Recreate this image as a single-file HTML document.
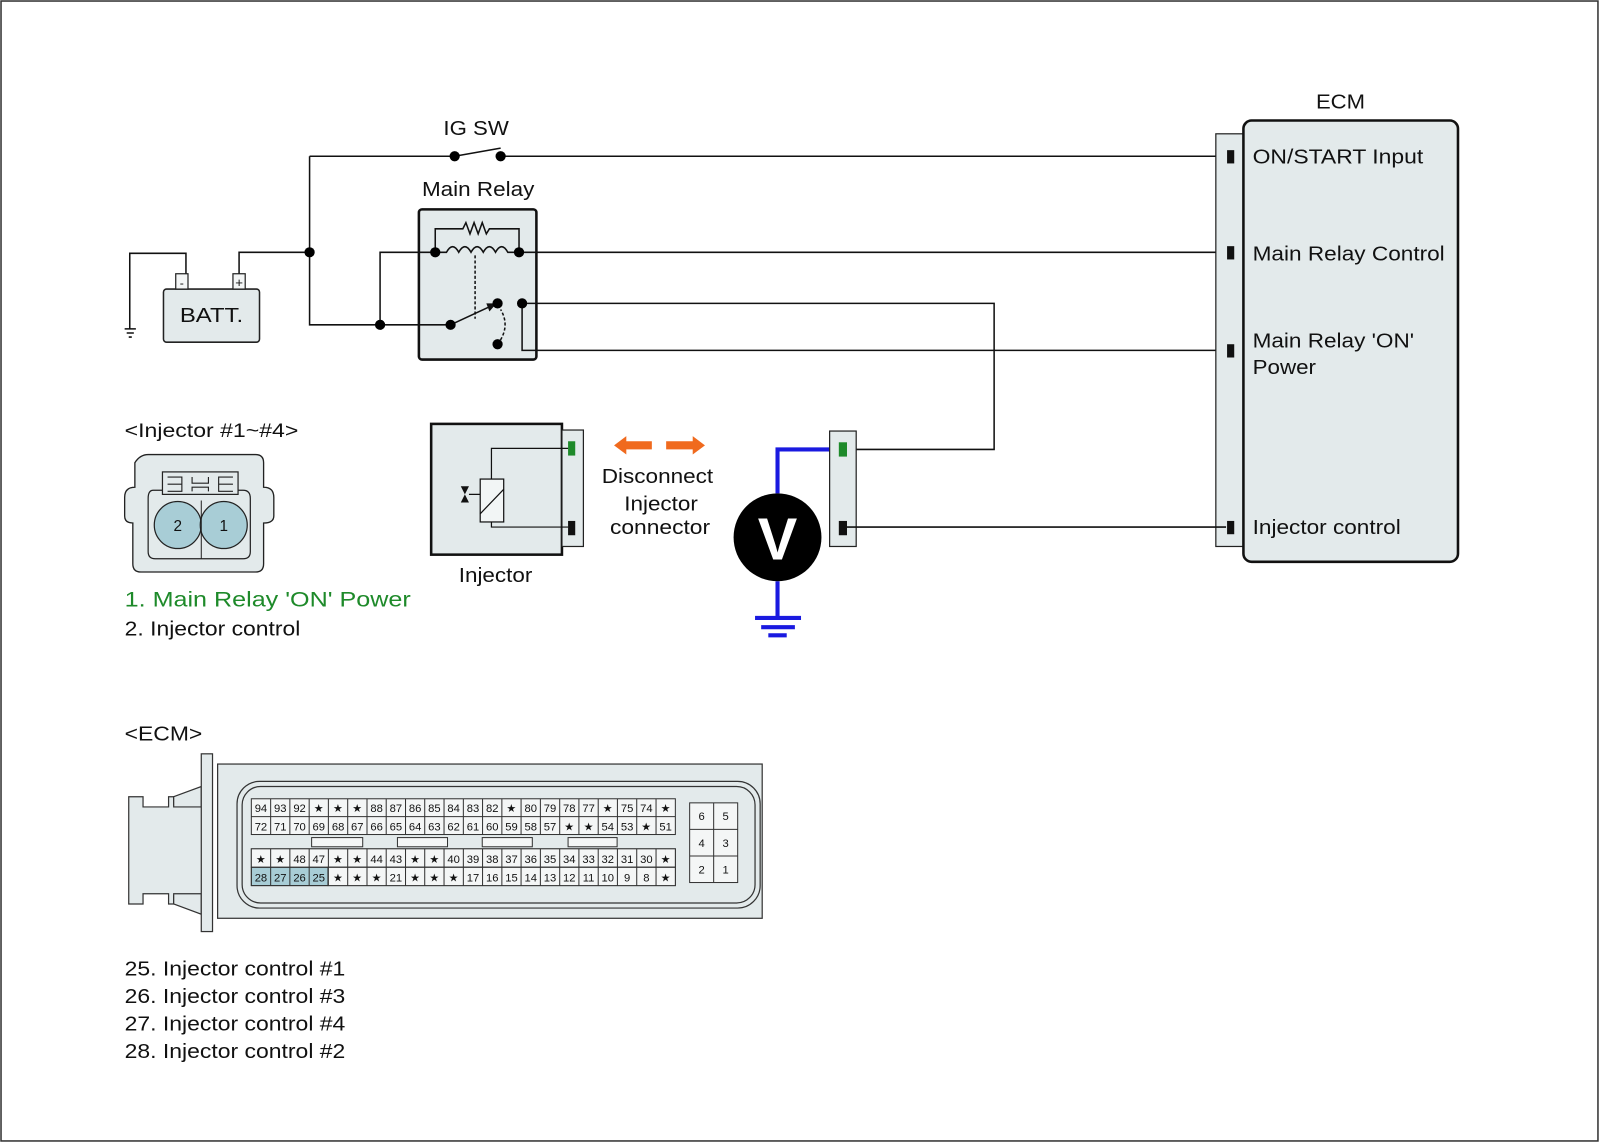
<!DOCTYPE html>
<html><head><meta charset="utf-8"><style>
html,body{margin:0;padding:0;background:#fff}
svg{display:block}
text{font-family:"Liberation Sans",Arial,sans-serif;fill:#111}
.g text{font-size:11px;text-anchor:middle}
</style></head><body>
<svg width="1600" height="1143" viewBox="0 0 1566 1119" preserveAspectRatio="none" xmlns="http://www.w3.org/2000/svg">
<rect x="1" y="1" width="1563" height="1116" fill="#fff" stroke="#333" stroke-width="1.5"/>
<!-- relay box first -->
<rect x="410" y="205" width="115" height="147" rx="3" fill="#e3eaeb" stroke="#111" stroke-width="2.5"/>
<g fill="none" stroke="#111" stroke-width="1.5">
<path d="M303 153H445M490 153H1200M445 153L490 145M303 153V318H441M234 270V247H303M372 318V247H426M182 268V248H127V322"/>
<path d="M508 247H1200M511 297H973V440H826M511 297V343H1200"/>
<path d="M122 322H133M124 326H131M126 330H129"/>
</g>
<circle cx="445" cy="153" r="5"/><circle cx="490" cy="153" r="5"/>
<circle cx="303" cy="247" r="5"/><circle cx="372" cy="318" r="5"/>
<text x="434" y="132" font-size="20" textLength="64" lengthAdjust="spacingAndGlyphs">IG SW</text>
<!-- battery -->
<rect x="160" y="283" width="94" height="52" rx="3" fill="#e3eaeb" stroke="#222" stroke-width="1.5"/>
<rect x="172" y="268" width="12" height="15" fill="#f4f6f6" stroke="#222" stroke-width="1.2"/>
<rect x="228" y="268" width="12" height="15" fill="#f4f6f6" stroke="#222" stroke-width="1.2"/>
<text x="178" y="281" font-size="12" text-anchor="middle">-</text>
<text x="234" y="281" font-size="13" text-anchor="middle">+</text>
<text x="176" y="315" font-size="20" textLength="62" lengthAdjust="spacingAndGlyphs">BATT.</text>
<!-- relay internals -->
<text x="413" y="192" font-size="20" textLength="110" lengthAdjust="spacingAndGlyphs">Main Relay</text>
<g fill="none" stroke="#111" stroke-width="1.5">
<path d="M426 247V224H453L456 218L460 229L464 218L468 229L472 218L476 229L479 224H508V247"/>
<path d="M426 247H437Q443 236 449 247Q455 236 461 247Q467 236 473 247Q479 236 485 247Q491 236 497 247H508"/>
<path d="M465 250V312" stroke-dasharray="3 2"/>
<path d="M441 318L484 298"/>
<path d="M487 337Q500 320 490 303" stroke-dasharray="3 2"/>
</g>
<path d="M486 297L476 297L479 305Z" fill="#111"/>
<circle cx="426" cy="247" r="5"/><circle cx="508" cy="247" r="5"/>
<circle cx="441" cy="318" r="5"/><circle cx="487" cy="297" r="5"/><circle cx="511" cy="297" r="5"/><circle cx="487" cy="337" r="5"/>
<!-- ECM -->
<text x="1288" y="106" font-size="20" textLength="48" lengthAdjust="spacingAndGlyphs">ECM</text>
<rect x="1190" y="131" width="27" height="404" fill="#e3eaeb" stroke="#222" stroke-width="1.2"/>
<rect x="1217" y="118" width="210" height="432" rx="8" fill="#e3eaeb" stroke="#111" stroke-width="2.5"/>
<rect x="1201" y="147" width="7" height="13" fill="#111"/>
<rect x="1201" y="241" width="7" height="13" fill="#111"/>
<rect x="1201" y="337" width="7" height="13" fill="#111"/>
<rect x="1201" y="510" width="7" height="13" fill="#111"/>
<g font-size="20" lengthAdjust="spacingAndGlyphs"><text x="1226" y="160" textLength="167" lengthAdjust="spacingAndGlyphs">ON/START Input</text><text x="1226" y="255" textLength="188" lengthAdjust="spacingAndGlyphs">Main Relay Control</text><text x="1226" y="340" textLength="158" lengthAdjust="spacingAndGlyphs">Main Relay 'ON'</text><text x="1226" y="366" textLength="62" lengthAdjust="spacingAndGlyphs">Power</text><text x="1226" y="523" textLength="145" lengthAdjust="spacingAndGlyphs">Injector control</text></g>
<!-- injector -->
<rect x="422" y="415" width="128" height="128" fill="#e3eaeb" stroke="#111" stroke-width="2.5"/>
<rect x="550" y="421" width="21" height="114" fill="#e3eaeb" stroke="#222" stroke-width="1.2"/>
<rect x="556" y="432" width="7" height="14" fill="#1e8a2a"/>
<rect x="556" y="510" width="7" height="14" fill="#111"/>
<g fill="none" stroke="#111" stroke-width="1.2"><path d="M556 439H481V469M481 511V516H556M459 484H470"/><rect x="470" y="469" width="23" height="42" fill="#f2f5f5"/><path d="M470 503L493 479"/></g>
<path d="M451 476H459L451 492H459Z" fill="#111"/>
<text x="449" y="570" font-size="20" textLength="72" lengthAdjust="spacingAndGlyphs">Injector</text>
<!-- arrows -->
<path d="M613 432H638V440H613V445L601 436L613 427Z" fill="#f06a1e"/>
<path d="M652 432H678V427L690 436L678 445V440H652Z" fill="#f06a1e"/>
<g font-size="20"><text x="589" y="473" textLength="109" lengthAdjust="spacingAndGlyphs">Disconnect</text><text x="611" y="500" textLength="72" lengthAdjust="spacingAndGlyphs">Injector</text><text x="597" y="523" textLength="98" lengthAdjust="spacingAndGlyphs">connector</text></g>
<!-- voltmeter -->
<g fill="none" stroke="#1a1ae0" stroke-width="4"><path d="M761 483V440H818M761 569V605M739 605H784M745 614H778M752 622H770"/></g>
<circle cx="761" cy="526" r="43" fill="#000"/>
<text x="761" y="548" font-size="58" font-weight="bold" text-anchor="middle" style="fill:#fff">V</text>
<rect x="812" y="422" width="26" height="113" fill="#e3eaeb" stroke="#222" stroke-width="1.2"/>
<rect x="821" y="433" width="8" height="14" fill="#1e8a2a"/>
<rect x="821" y="510" width="8" height="14" fill="#111"/>
<path d="M829 516H1200" stroke="#111" stroke-width="1.5"/>
<!-- injector connector face -->
<text x="122" y="428" font-size="19" textLength="170" lengthAdjust="spacingAndGlyphs">&lt;Injector #1~#4&gt;</text>
<path d="M145 445H250Q258 445 258 453V477Q268 477 268 487V505Q268 512 258 512V552Q258 560 250 560H138Q130 560 130 552V512Q122 512 122 505V487Q122 477 132 477V453Q137 445 145 445Z" fill="#e3eaeb" stroke="#222" stroke-width="1.3"/>
<path d="M150 480Q145 480 145 488V540Q145 547 152 547H238Q245 547 245 540V488Q245 480 238 480Z" fill="none" stroke="#222" stroke-width="1.2"/>
<rect x="159" y="462" width="74" height="22" fill="#e3eaeb" stroke="#222" stroke-width="1.2"/>
<path d="M164 467H178V481H164M164 474H178M228 467H214V481H228M214 474H228M188 467V473H204V467M188 481V477H204V481" fill="none" stroke="#222" stroke-width="1.1"/>
<circle cx="174" cy="514" r="23" fill="#a8cdd6" stroke="#222" stroke-width="1.2"/>
<circle cx="219" cy="514" r="23" fill="#a8cdd6" stroke="#222" stroke-width="1.2"/>
<path d="M197 490V547" stroke="#222" stroke-width="1"/>
<text x="174" y="520" font-size="15" text-anchor="middle">2</text>
<text x="219" y="520" font-size="15" text-anchor="middle">1</text>
<text x="122" y="594" font-size="21" textLength="280" lengthAdjust="spacingAndGlyphs" style="fill:#1e8a2a">1. Main Relay 'ON' Power</text>
<text x="122" y="622" font-size="20" textLength="172" lengthAdjust="spacingAndGlyphs">2. Injector control</text>
<!-- ECM connector -->
<text x="122" y="725" font-size="20" textLength="76" lengthAdjust="spacingAndGlyphs">&lt;ECM&gt;</text>
<g fill="#e3eaeb" stroke="#333" stroke-width="1.2">
<path d="M126 780H140V790H165V780H170V788L202 788V877L170 877V885H165V875H140V885H126Z"/>
<path d="M170 780L197 770V790L170 790ZM170 875L197 875V895L170 885Z"/>
<rect x="213" y="748" width="533" height="151"/>
<rect x="197" y="738" width="11" height="174"/>
<rect x="232" y="765" width="512" height="124" rx="22" fill="none"/>
<rect x="237" y="770" width="502" height="114" rx="18" fill="none"/>
</g>
<g class="g" stroke="#333" stroke-width="1">
<rect x="246" y="849" width="75" height="18" fill="#a8cdd6"/>
<rect x="246" y="782" width="415" height="35" fill="#f4f6f6"/>
<rect x="246" y="831" width="415" height="36" fill="none"/>
<rect x="246" y="831" width="415" height="18" fill="#f4f6f6"/>
<rect x="321" y="849" width="340" height="18" fill="#f4f6f6"/>
<path d="M246 799.5H661M246 849H661M264.9 782V817M283.7 782V817M302.6 782V817M321.4 782V817M340.3 782V817M359.2 782V817M378 782V817M396.9 782V817M415.7 782V817M434.6 782V817M453.5 782V817M472.3 782V817M491.2 782V817M510 782V817M528.9 782V817M547.8 782V817M566.6 782V817M585.5 782V817M604.3 782V817M623.2 782V817M642.1 782V817M264.9 831V867M283.7 831V867M302.6 831V867M321.4 831V867M340.3 831V867M359.2 831V867M378 831V867M396.9 831V867M415.7 831V867M434.6 831V867M453.5 831V867M472.3 831V867M491.2 831V867M510 831V867M528.9 831V867M547.8 831V867M566.6 831V867M585.5 831V867M604.3 831V867M623.2 831V867M642.1 831V867" fill="none"/>
<rect x="305" y="820" width="50" height="9" fill="#f4f6f6"/><rect x="389" y="820" width="49" height="9" fill="#f4f6f6"/><rect x="472" y="820" width="49" height="9" fill="#f4f6f6"/><rect x="556" y="820" width="48" height="9" fill="#f4f6f6"/>
<rect x="675" y="786" width="47" height="78" fill="#f4f6f6"/>
<path d="M698.5 786V864M675 812H722M675 838H722" fill="none"/>
</g>
<g class="g" stroke="none">
<text x="255.4" y="795">94</text><text x="274.3" y="795">93</text><text x="293.2" y="795">92</text><text x="312" y="795">★</text><text x="330.9" y="795">★</text><text x="349.7" y="795">★</text><text x="368.6" y="795">88</text><text x="387.5" y="795">87</text><text x="406.3" y="795">86</text><text x="425.2" y="795">85</text><text x="444" y="795">84</text><text x="462.9" y="795">83</text><text x="481.8" y="795">82</text><text x="500.6" y="795">★</text><text x="519.5" y="795">80</text><text x="538.3" y="795">79</text><text x="557.2" y="795">78</text><text x="576.1" y="795">77</text><text x="594.9" y="795">★</text><text x="613.8" y="795">75</text><text x="632.6" y="795">74</text><text x="651.5" y="795">★</text>
<text x="255.4" y="813">72</text><text x="274.3" y="813">71</text><text x="293.2" y="813">70</text><text x="312" y="813">69</text><text x="330.9" y="813">68</text><text x="349.7" y="813">67</text><text x="368.6" y="813">66</text><text x="387.5" y="813">65</text><text x="406.3" y="813">64</text><text x="425.2" y="813">63</text><text x="444" y="813">62</text><text x="462.9" y="813">61</text><text x="481.8" y="813">60</text><text x="500.6" y="813">59</text><text x="519.5" y="813">58</text><text x="538.3" y="813">57</text><text x="557.2" y="813">★</text><text x="576.1" y="813">★</text><text x="594.9" y="813">54</text><text x="613.8" y="813">53</text><text x="632.6" y="813">★</text><text x="651.5" y="813">51</text>
<text x="255.4" y="845">★</text><text x="274.3" y="845">★</text><text x="293.2" y="845">48</text><text x="312" y="845">47</text><text x="330.9" y="845">★</text><text x="349.7" y="845">★</text><text x="368.6" y="845">44</text><text x="387.5" y="845">43</text><text x="406.3" y="845">★</text><text x="425.2" y="845">★</text><text x="444" y="845">40</text><text x="462.9" y="845">39</text><text x="481.8" y="845">38</text><text x="500.6" y="845">37</text><text x="519.5" y="845">36</text><text x="538.3" y="845">35</text><text x="557.2" y="845">34</text><text x="576.1" y="845">33</text><text x="594.9" y="845">32</text><text x="613.8" y="845">31</text><text x="632.6" y="845">30</text><text x="651.5" y="845">★</text>
<text x="255.4" y="863">28</text><text x="274.3" y="863">27</text><text x="293.2" y="863">26</text><text x="312" y="863">25</text><text x="330.9" y="863">★</text><text x="349.7" y="863">★</text><text x="368.6" y="863">★</text><text x="387.5" y="863">21</text><text x="406.3" y="863">★</text><text x="425.2" y="863">★</text><text x="444" y="863">★</text><text x="462.9" y="863">17</text><text x="481.8" y="863">16</text><text x="500.6" y="863">15</text><text x="519.5" y="863">14</text><text x="538.3" y="863">13</text><text x="557.2" y="863">12</text><text x="576.1" y="863">11</text><text x="594.9" y="863">10</text><text x="613.8" y="863">9</text><text x="632.6" y="863">8</text><text x="651.5" y="863">★</text>
<text x="686.7" y="803">6</text><text x="710.2" y="803">5</text><text x="686.7" y="829">4</text><text x="710.2" y="829">3</text><text x="686.7" y="855">2</text><text x="710.2" y="855">1</text>
</g>
<g font-size="20"><text x="122" y="955" textLength="216" lengthAdjust="spacingAndGlyphs">25. Injector control #1</text><text x="122" y="982" textLength="216" lengthAdjust="spacingAndGlyphs">26. Injector control #3</text><text x="122" y="1009" textLength="216" lengthAdjust="spacingAndGlyphs">27. Injector control #4</text><text x="122" y="1036" textLength="216" lengthAdjust="spacingAndGlyphs">28. Injector control #2</text></g>
</svg>
</body></html>
